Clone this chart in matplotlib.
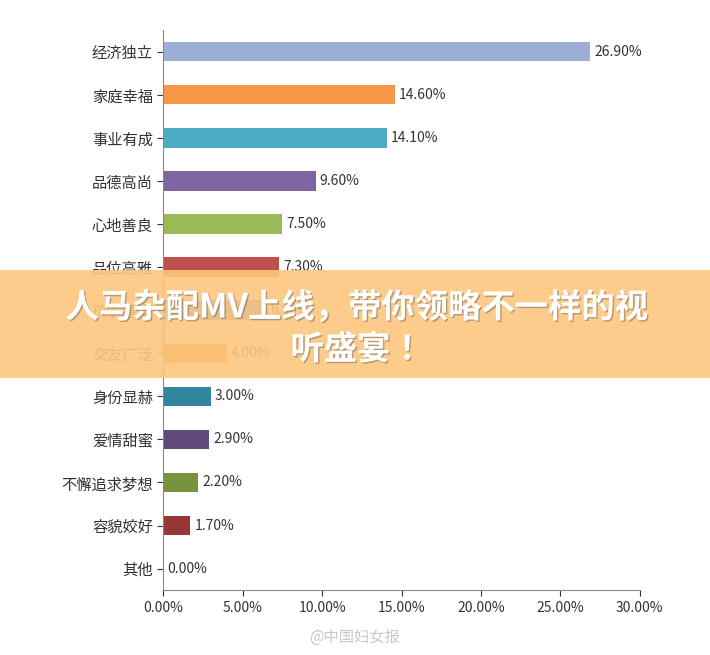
import matplotlib.pyplot as plt
import matplotlib.patheffects as pe
from matplotlib.patches import Rectangle
from matplotlib import font_manager

names = {f.name for f in font_manager.fontManager.ttflist}
cjk = [n for n in ["Noto Sans CJK SC", "Noto Sans CJK JP", "Noto Sans CJK TC", "Noto Sans CJK KR"] if n in names]
plt.rcParams["font.family"] = "sans-serif"
plt.rcParams["font.sans-serif"] = cjk + ["DejaVu Sans"]

categories = ["经济独立", "家庭幸福", "事业有成", "品德高尚", "心地善良", "品位高雅",
              "孩子健康", "交友广泛", "身份显赫", "爱情甜蜜", "不懈追求梦想", "容貌姣好", "其他"]
values = [26.9, 14.6, 14.1, 9.6, 7.5, 7.3, 6.5, 4.0, 3.0, 2.9, 2.2, 1.7, 0.0]
colors = ["#9DAFD8", "#F79646", "#4BACC6", "#8064A2", "#9BBB59", "#C0504D",
          "#4F81BD", "#E98B2A", "#31859C", "#5F497A", "#77933C", "#953735", "#4F81BD"]

fig = plt.figure(figsize=(7.1, 6.55), dpi=100)
ax = fig.add_axes([0.23, 0.099, 0.671, 0.855])
y = range(len(categories))
ax.barh(y, values, color=colors, height=0.45)
for i, v in enumerate(values):
    ax.text(v + 0.25, i, f"{v:.2f}%", va="center", fontsize=10, color="#333333")
ax.set_yticks(list(y))
ax.set_yticklabels(categories, fontsize=11)
ax.set_ylim(len(categories) - 0.5, -0.5)
ax.set_xlim(0, 30)
ax.set_xticks(range(0, 31, 5))
ax.set_xticklabels([f"{t:.2f}%" for t in range(0, 31, 5)], fontsize=10)
for s in ["top", "right"]:
    ax.spines[s].set_visible(False)
ax.spines["left"].set_color("#888888")
ax.spines["bottom"].set_color("#888888")
ax.tick_params(colors="#333333", length=4)

# banner overlay
fig.patches.append(Rectangle((0, 1 - 378 / 655), 1, 108 / 655, transform=fig.transFigure,
                             facecolor="#FDC77F", alpha=0.9, zorder=10))
fx = dict(path_effects=[pe.withSimplePatchShadow(offset=(1, -1), alpha=0.4)])
fig.text(0.503, 1 - 308 / 655, "人马杂配MV上线，带你领略不一样的视", ha="center", va="center",
         fontsize=24, fontweight="bold", color="white", zorder=11, **fx)
fig.text(0.503, 1 - 350 / 655, "听盛宴！", ha="center", va="center",
         fontsize=24, fontweight="bold", color="white", zorder=11, **fx)
fig.text(0.5, 1 - 637 / 655, "@中国妇女报", ha="center", va="center",
         fontsize=11, color="#BBBBBB", alpha=0.8)

fig.savefig("out.png")
